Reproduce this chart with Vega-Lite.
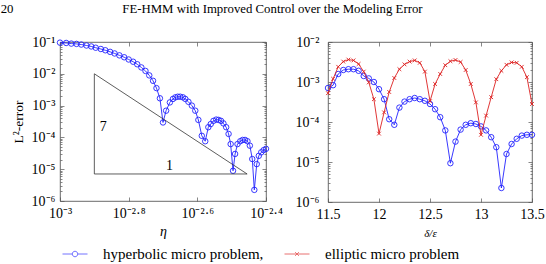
{
  "$schema": "https://vega.github.io/schema/vega-lite/v6.json",
  "background": "white",
  "padding": {"left": 0, "top": 2, "right": 0, "bottom": 0},
  "title": {
    "text": "20\u00a0\u00a0\u00a0\u00a0\u00a0\u00a0\u00a0\u00a0\u00a0\u00a0\u00a0\u00a0\u00a0\u00a0\u00a0\u00a0\u00a0\u00a0\u00a0\u00a0\u00a0\u00a0\u00a0\u00a0\u00a0\u00a0\u00a0\u00a0\u00a0\u00a0\u00a0\u00a0\u00a0\u00a0FE-HMM with Improved Control over the Modeling Error",
    "anchor": "start", "frame": "bounds", "font": "Liberation Serif", "fontSize": 12.8, "fontWeight": "normal", "color": "#000", "offset": 19, "dx": -10
  },
  "config": {
    "view": {"stroke": "#444", "strokeWidth": 0.8},
    "font": "Liberation Serif",
    "axis": {"labelFont": "Liberation Serif", "labelFontSize": 14, "labelColor": "#000", "tickColor": "#555", "tickWidth": 0.7, "domain": false, "grid": false, "titleFont": "Liberation Serif", "titleFontWeight": "normal", "titleColor": "#000", "labelOverlap": false, "labelFlush": false}
  },
  "bounds": "flush",
  "spacing": 62,
  "datasets": {
    "hyp_eta": [
      {"log10_eta": -3.000, "log10_error": -1.02}, {"log10_eta": -2.982, "log10_error": -1.03}, {"log10_eta": -2.967, "log10_error": -1.05}, {"log10_eta": -2.952, "log10_error": -1.06},
      {"log10_eta": -2.938, "log10_error": -1.08}, {"log10_eta": -2.923, "log10_error": -1.11}, {"log10_eta": -2.909, "log10_error": -1.14}, {"log10_eta": -2.896, "log10_error": -1.18},
      {"log10_eta": -2.881, "log10_error": -1.22}, {"log10_eta": -2.868, "log10_error": -1.26}, {"log10_eta": -2.854, "log10_error": -1.31}, {"log10_eta": -2.841, "log10_error": -1.36},
      {"log10_eta": -2.827, "log10_error": -1.42}, {"log10_eta": -2.813, "log10_error": -1.48}, {"log10_eta": -2.800, "log10_error": -1.55}, {"log10_eta": -2.787, "log10_error": -1.62},
      {"log10_eta": -2.775, "log10_error": -1.70}, {"log10_eta": -2.763, "log10_error": -1.80}, {"log10_eta": -2.751, "log10_error": -1.91}, {"log10_eta": -2.740, "log10_error": -2.05},
      {"log10_eta": -2.729, "log10_error": -2.22}, {"log10_eta": -2.719, "log10_error": -2.45}, {"log10_eta": -2.709, "log10_error": -2.77}, {"log10_eta": -2.700, "log10_error": -3.53},
      {"log10_eta": -2.691, "log10_error": -3.16}, {"log10_eta": -2.680, "log10_error": -2.90}, {"log10_eta": -2.671, "log10_error": -2.79}, {"log10_eta": -2.664, "log10_error": -2.74},
      {"log10_eta": -2.657, "log10_error": -2.72}, {"log10_eta": -2.650, "log10_error": -2.72}, {"log10_eta": -2.642, "log10_error": -2.74}, {"log10_eta": -2.635, "log10_error": -2.79},
      {"log10_eta": -2.626, "log10_error": -2.88}, {"log10_eta": -2.616, "log10_error": -3.00}, {"log10_eta": -2.606, "log10_error": -3.16}, {"log10_eta": -2.597, "log10_error": -3.45},
      {"log10_eta": -2.587, "log10_error": -3.95}, {"log10_eta": -2.577, "log10_error": -4.12}, {"log10_eta": -2.568, "log10_error": -3.68}, {"log10_eta": -2.561, "log10_error": -3.58},
      {"log10_eta": -2.553, "log10_error": -3.48}, {"log10_eta": -2.545, "log10_error": -3.44}, {"log10_eta": -2.538, "log10_error": -3.45}, {"log10_eta": -2.531, "log10_error": -3.48},
      {"log10_eta": -2.524, "log10_error": -3.56}, {"log10_eta": -2.516, "log10_error": -3.68}, {"log10_eta": -2.509, "log10_error": -3.89}, {"log10_eta": -2.503, "log10_error": -4.21},
      {"log10_eta": -2.496, "log10_error": -5.05}, {"log10_eta": -2.490, "log10_error": -4.52}, {"log10_eta": -2.483, "log10_error": -4.21}, {"log10_eta": -2.475, "log10_error": -4.12},
      {"log10_eta": -2.468, "log10_error": -4.08}, {"log10_eta": -2.461, "log10_error": -4.08}, {"log10_eta": -2.454, "log10_error": -4.12}, {"log10_eta": -2.447, "log10_error": -4.26},
      {"log10_eta": -2.440, "log10_error": -4.68}, {"log10_eta": -2.434, "log10_error": -5.65}, {"log10_eta": -2.427, "log10_error": -4.84}, {"log10_eta": -2.421, "log10_error": -4.58},
      {"log10_eta": -2.414, "log10_error": -4.47}, {"log10_eta": -2.407, "log10_error": -4.40}, {"log10_eta": -2.400, "log10_error": -4.36}
    ],
    "triangle": [
      {"k": 1, "log10_eta": -2.9, "log10_error": -2.0},
      {"k": 2, "log10_eta": -2.9, "log10_error": -5.15},
      {"k": 3, "log10_eta": -2.455, "log10_error": -5.15},
      {"k": 4, "log10_eta": -2.9, "log10_error": -2.0}
    ],
    "slope_labels": [
      {"label": "7", "log10_eta": -2.874, "log10_error": -3.68},
      {"label": "1", "log10_eta": -2.681, "log10_error": -4.89}
    ],
    "legend_rows": [
      {"series": "hyperbolic micro problem,", "log10_eta": -9, "log10_error": -9},
      {"series": "elliptic micro problem", "log10_eta": -9, "log10_error": -9}
    ],
    "hyp_delta": [
      {"delta_over_eps": 11.50, "log10_error": -3.15}, {"delta_over_eps": 11.55, "log10_error": -3.08}, {"delta_over_eps": 11.60, "log10_error": -2.80}, {"delta_over_eps": 11.65, "log10_error": -2.70},
      {"delta_over_eps": 11.70, "log10_error": -2.68}, {"delta_over_eps": 11.75, "log10_error": -2.68}, {"delta_over_eps": 11.80, "log10_error": -2.72}, {"delta_over_eps": 11.85, "log10_error": -2.85},
      {"delta_over_eps": 11.90, "log10_error": -2.91}, {"delta_over_eps": 11.95, "log10_error": -3.00}, {"delta_over_eps": 12.00, "log10_error": -3.18}, {"delta_over_eps": 12.05, "log10_error": -3.43},
      {"delta_over_eps": 12.10, "log10_error": -3.93}, {"delta_over_eps": 12.15, "log10_error": -4.07}, {"delta_over_eps": 12.20, "log10_error": -3.64}, {"delta_over_eps": 12.25, "log10_error": -3.49},
      {"delta_over_eps": 12.30, "log10_error": -3.43}, {"delta_over_eps": 12.35, "log10_error": -3.40}, {"delta_over_eps": 12.40, "log10_error": -3.43}, {"delta_over_eps": 12.45, "log10_error": -3.47},
      {"delta_over_eps": 12.50, "log10_error": -3.55}, {"delta_over_eps": 12.55, "log10_error": -3.68}, {"delta_over_eps": 12.60, "log10_error": -3.88}, {"delta_over_eps": 12.65, "log10_error": -4.21},
      {"delta_over_eps": 12.70, "log10_error": -5.03}, {"delta_over_eps": 12.75, "log10_error": -4.49}, {"delta_over_eps": 12.80, "log10_error": -4.19}, {"delta_over_eps": 12.85, "log10_error": -4.07},
      {"delta_over_eps": 12.90, "log10_error": -4.03}, {"delta_over_eps": 12.95, "log10_error": -4.05}, {"delta_over_eps": 13.00, "log10_error": -4.11}, {"delta_over_eps": 13.05, "log10_error": -4.21},
      {"delta_over_eps": 13.10, "log10_error": -4.38}, {"delta_over_eps": 13.15, "log10_error": -4.63}, {"delta_over_eps": 13.20, "log10_error": -5.65}, {"delta_over_eps": 13.25, "log10_error": -4.80},
      {"delta_over_eps": 13.30, "log10_error": -4.55}, {"delta_over_eps": 13.35, "log10_error": -4.42}, {"delta_over_eps": 13.40, "log10_error": -4.34}, {"delta_over_eps": 13.45, "log10_error": -4.32},
      {"delta_over_eps": 13.50, "log10_error": -4.32}
    ],
    "ell_delta": [
      {"delta_over_eps": 11.50, "log10_error": -3.28}, {"delta_over_eps": 11.55, "log10_error": -2.92}, {"delta_over_eps": 11.60, "log10_error": -2.62}, {"delta_over_eps": 11.65, "log10_error": -2.49},
      {"delta_over_eps": 11.70, "log10_error": -2.44}, {"delta_over_eps": 11.75, "log10_error": -2.46}, {"delta_over_eps": 11.80, "log10_error": -2.55}, {"delta_over_eps": 11.85, "log10_error": -2.74},
      {"delta_over_eps": 11.90, "log10_error": -3.01}, {"delta_over_eps": 11.95, "log10_error": -3.43}, {"delta_over_eps": 12.00, "log10_error": -4.29}, {"delta_over_eps": 12.05, "log10_error": -3.76},
      {"delta_over_eps": 12.10, "log10_error": -3.25}, {"delta_over_eps": 12.15, "log10_error": -2.90}, {"delta_over_eps": 12.20, "log10_error": -2.68}, {"delta_over_eps": 12.25, "log10_error": -2.56},
      {"delta_over_eps": 12.30, "log10_error": -2.49}, {"delta_over_eps": 12.35, "log10_error": -2.46}, {"delta_over_eps": 12.40, "log10_error": -2.52}, {"delta_over_eps": 12.45, "log10_error": -2.74},
      {"delta_over_eps": 12.50, "log10_error": -3.48}, {"delta_over_eps": 12.55, "log10_error": -3.05}, {"delta_over_eps": 12.60, "log10_error": -2.80}, {"delta_over_eps": 12.65, "log10_error": -2.58},
      {"delta_over_eps": 12.70, "log10_error": -2.48}, {"delta_over_eps": 12.75, "log10_error": -2.45}, {"delta_over_eps": 12.80, "log10_error": -2.50}, {"delta_over_eps": 12.85, "log10_error": -2.70},
      {"delta_over_eps": 12.90, "log10_error": -3.05}, {"delta_over_eps": 12.95, "log10_error": -3.51}, {"delta_over_eps": 13.00, "log10_error": -4.32}, {"delta_over_eps": 13.05, "log10_error": -3.84},
      {"delta_over_eps": 13.10, "log10_error": -3.38}, {"delta_over_eps": 13.15, "log10_error": -2.93}, {"delta_over_eps": 13.20, "log10_error": -2.72}, {"delta_over_eps": 13.25, "log10_error": -2.57},
      {"delta_over_eps": 13.30, "log10_error": -2.51}, {"delta_over_eps": 13.35, "log10_error": -2.52}, {"delta_over_eps": 13.40, "log10_error": -2.62}, {"delta_over_eps": 13.45, "log10_error": -2.88},
      {"delta_over_eps": 13.50, "log10_error": -3.55}
    ]
  },
  "hconcat": [
    {
      "width": 206,
      "height": 159,
      "layer": [
        {
          "data": {"name": "hyp_eta"},
          "mark": {"type": "line", "color": "#2222ff", "strokeWidth": 0.9, "point": {"filled": false, "shape": "circle", "size": 30, "strokeWidth": 0.9, "color": "#2222ff"}},
          "encoding": {
            "x": {"field": "log10_eta", "type": "quantitative", "scale": {"domain": [-3, -2.4], "nice": false, "zero": false},
              "axis": {"orient": "bottom", "values": [-3, -2.8, -2.6, -2.4], "labelExpr": "datum.value == -3 ? '10⁻³' : datum.value == -2.8 ? '10⁻²·⁸' : datum.value == -2.6 ? '10⁻²·⁶' : '10⁻²·⁴'", "title": "η", "titleFontStyle": "italic", "titleFontSize": 14, "tickSize": -4, "labelPadding": 9, "titlePadding": 4}},
            "y": {"field": "log10_error", "type": "quantitative", "scale": {"domain": [-6, -1], "nice": false, "zero": false},
              "axis": {"orient": "left", "values": [-6, -5.69897, -5.52288, -5.39794, -5.30103, -5.22185, -5.1549, -5.09691, -5.04576, -5, -4.69897, -4.52288, -4.39794, -4.30103, -4.22185, -4.1549, -4.09691, -4.04576, -4, -3.69897, -3.52288, -3.39794, -3.30103, -3.22185, -3.1549, -3.09691, -3.04576, -3, -2.69897, -2.52288, -2.39794, -2.30103, -2.22185, -2.1549, -2.09691, -2.04576, -2, -1.69897, -1.52288, -1.39794, -1.30103, -1.22185, -1.1549, -1.09691, -1.04576, -1],
                "labelExpr": "datum.value == -1 ? '10⁻¹' : datum.value == -2 ? '10⁻²' : datum.value == -3 ? '10⁻³' : datum.value == -4 ? '10⁻⁴' : datum.value == -5 ? '10⁻⁵' : datum.value == -6 ? '10⁻⁶' : ''",
                "tickSize": {"condition": {"test": "datum.value != round(datum.value)", "value": -2}, "value": -4},
                "title": "L²-error", "titleFontSize": 13.5, "labelPadding": 9, "titlePadding": 6}}
          }
        },
        {
          "data": {"name": "triangle"},
          "mark": {"type": "line", "color": "#333", "strokeWidth": 0.8},
          "encoding": {
            "x": {"field": "log10_eta", "type": "quantitative", "scale": {"domain": [-3, -2.4], "nice": false, "zero": false},
              "axis": {"orient": "top", "values": [-3, -2.8, -2.6, -2.4], "labels": false, "title": null, "tickSize": -4}},
            "y": {"field": "log10_error", "type": "quantitative", "scale": {"domain": [-6, -1], "nice": false, "zero": false},
              "axis": {"orient": "right", "values": [-6, -5.69897, -5.52288, -5.39794, -5.30103, -5.22185, -5.1549, -5.09691, -5.04576, -5, -4.69897, -4.52288, -4.39794, -4.30103, -4.22185, -4.1549, -4.09691, -4.04576, -4, -3.69897, -3.52288, -3.39794, -3.30103, -3.22185, -3.1549, -3.09691, -3.04576, -3, -2.69897, -2.52288, -2.39794, -2.30103, -2.22185, -2.1549, -2.09691, -2.04576, -2, -1.69897, -1.52288, -1.39794, -1.30103, -1.22185, -1.1549, -1.09691, -1.04576, -1],
                "labels": false, "title": null,
                "tickSize": {"condition": {"test": "datum.value != round(datum.value)", "value": -2}, "value": -4}}},
            "order": {"field": "k", "type": "quantitative"}
          }
        },
        {
          "data": {"name": "slope_labels"},
          "mark": {"type": "text", "font": "Liberation Serif", "fontSize": 14, "color": "#000"},
          "encoding": {
            "x": {"field": "log10_eta", "type": "quantitative", "scale": {"domain": [-3, -2.4], "nice": false, "zero": false}, "axis": null},
            "y": {"field": "log10_error", "type": "quantitative", "scale": {"domain": [-6, -1], "nice": false, "zero": false}, "axis": null},
            "text": {"field": "label", "type": "nominal"}
          }
        },
        {
          "data": {"name": "legend_rows"},
          "mark": {"type": "point", "filled": false, "size": 625, "strokeWidth": 0.9, "clip": true},
          "encoding": {
            "x": {"field": "log10_eta", "type": "quantitative", "scale": {"domain": [-3, -2.4], "nice": false, "zero": false}, "axis": null},
            "y": {"field": "log10_error", "type": "quantitative", "scale": {"domain": [-6, -1], "nice": false, "zero": false}, "axis": null},
            "color": {"field": "series", "type": "nominal",
              "scale": {"domain": ["hyperbolic micro problem,", "elliptic micro problem"], "range": ["#2222ff", "#dd2020"]},
              "legend": {"orient": "none", "legendX": 2, "legendY": 199, "direction": "horizontal", "title": null, "labelFont": "Liberation Serif", "labelFontSize": 15, "labelColor": "#000", "symbolSize": 625, "symbolStrokeWidth": 0.9, "labelOffset": 15, "columnPadding": 18, "labelLimit": 400}},
            "shape": {"field": "series", "type": "nominal",
              "scale": {"domain": ["hyperbolic micro problem,", "elliptic micro problem"], "range": ["M-1,0H-0.22M0.22,0H1M-0.22,0A0.22,0.22 0 1,1 0.22,0A0.22,0.22 0 1,1 -0.22,0", "M-1,0H1M-0.15,-0.15L0.15,0.15M-0.15,0.15L0.15,-0.15"]},
              "legend": {"orient": "none", "legendX": 2, "legendY": 199, "direction": "horizontal", "title": null, "labelFont": "Liberation Serif", "labelFontSize": 15, "labelColor": "#000", "symbolSize": 625, "symbolStrokeWidth": 0.9, "labelOffset": 15, "columnPadding": 18, "labelLimit": 400}}
          }
        }
      ],
      "resolve": {"axis": {"x": "independent", "y": "independent"}}
    },
    {
      "width": 204,
      "height": 160,
      "layer": [
        {
          "data": {"name": "hyp_delta"},
          "mark": {"type": "line", "color": "#2222ff", "strokeWidth": 0.9, "point": {"filled": false, "shape": "circle", "size": 30, "strokeWidth": 0.9, "color": "#2222ff"}},
          "encoding": {
            "x": {"field": "delta_over_eps", "type": "quantitative", "scale": {"domain": [11.5, 13.5], "nice": false, "zero": false},
              "axis": {"orient": "bottom", "values": [11.5, 12, 12.5, 13, 13.5], "format": "~g", "title": "δ/ε", "titleFontStyle": "italic", "titleFontSize": 11, "tickSize": -4, "labelPadding": 9, "titlePadding": 6}},
            "y": {"field": "log10_error", "type": "quantitative", "scale": {"domain": [-6, -2], "nice": false, "zero": false},
              "axis": {"orient": "left", "values": [-6, -5.69897, -5.52288, -5.39794, -5.30103, -5.22185, -5.1549, -5.09691, -5.04576, -5, -4.69897, -4.52288, -4.39794, -4.30103, -4.22185, -4.1549, -4.09691, -4.04576, -4, -3.69897, -3.52288, -3.39794, -3.30103, -3.22185, -3.1549, -3.09691, -3.04576, -3, -2.69897, -2.52288, -2.39794, -2.30103, -2.22185, -2.1549, -2.09691, -2.04576, -2],
                "labelExpr": "datum.value == -2 ? '10⁻²' : datum.value == -3 ? '10⁻³' : datum.value == -4 ? '10⁻⁴' : datum.value == -5 ? '10⁻⁵' : datum.value == -6 ? '10⁻⁶' : ''",
                "tickSize": {"condition": {"test": "datum.value != round(datum.value)", "value": -2}, "value": -4},
                "title": null, "labelPadding": 13}}
          }
        },
        {
          "data": {"name": "ell_delta"},
          "mark": {"type": "line", "color": "#dd2020", "strokeWidth": 0.9, "point": {"filled": false, "shape": "M-1,-1L1,1M-1,1L1,-1", "size": 14, "strokeWidth": 0.9, "color": "#dd2020"}},
          "encoding": {
            "x": {"field": "delta_over_eps", "type": "quantitative", "scale": {"domain": [11.5, 13.5], "nice": false, "zero": false},
              "axis": {"orient": "top", "values": [11.5, 12, 12.5, 13, 13.5], "labels": false, "title": null, "tickSize": -4}},
            "y": {"field": "log10_error", "type": "quantitative", "scale": {"domain": [-6, -2], "nice": false, "zero": false},
              "axis": {"orient": "right", "values": [-6, -5.69897, -5.52288, -5.39794, -5.30103, -5.22185, -5.1549, -5.09691, -5.04576, -5, -4.69897, -4.52288, -4.39794, -4.30103, -4.22185, -4.1549, -4.09691, -4.04576, -4, -3.69897, -3.52288, -3.39794, -3.30103, -3.22185, -3.1549, -3.09691, -3.04576, -3, -2.69897, -2.52288, -2.39794, -2.30103, -2.22185, -2.1549, -2.09691, -2.04576, -2],
                "labels": false, "title": null,
                "tickSize": {"condition": {"test": "datum.value != round(datum.value)", "value": -2}, "value": -4}}}
          }
        }
      ],
      "resolve": {"axis": {"x": "independent", "y": "independent"}}
    }
  ]
}
